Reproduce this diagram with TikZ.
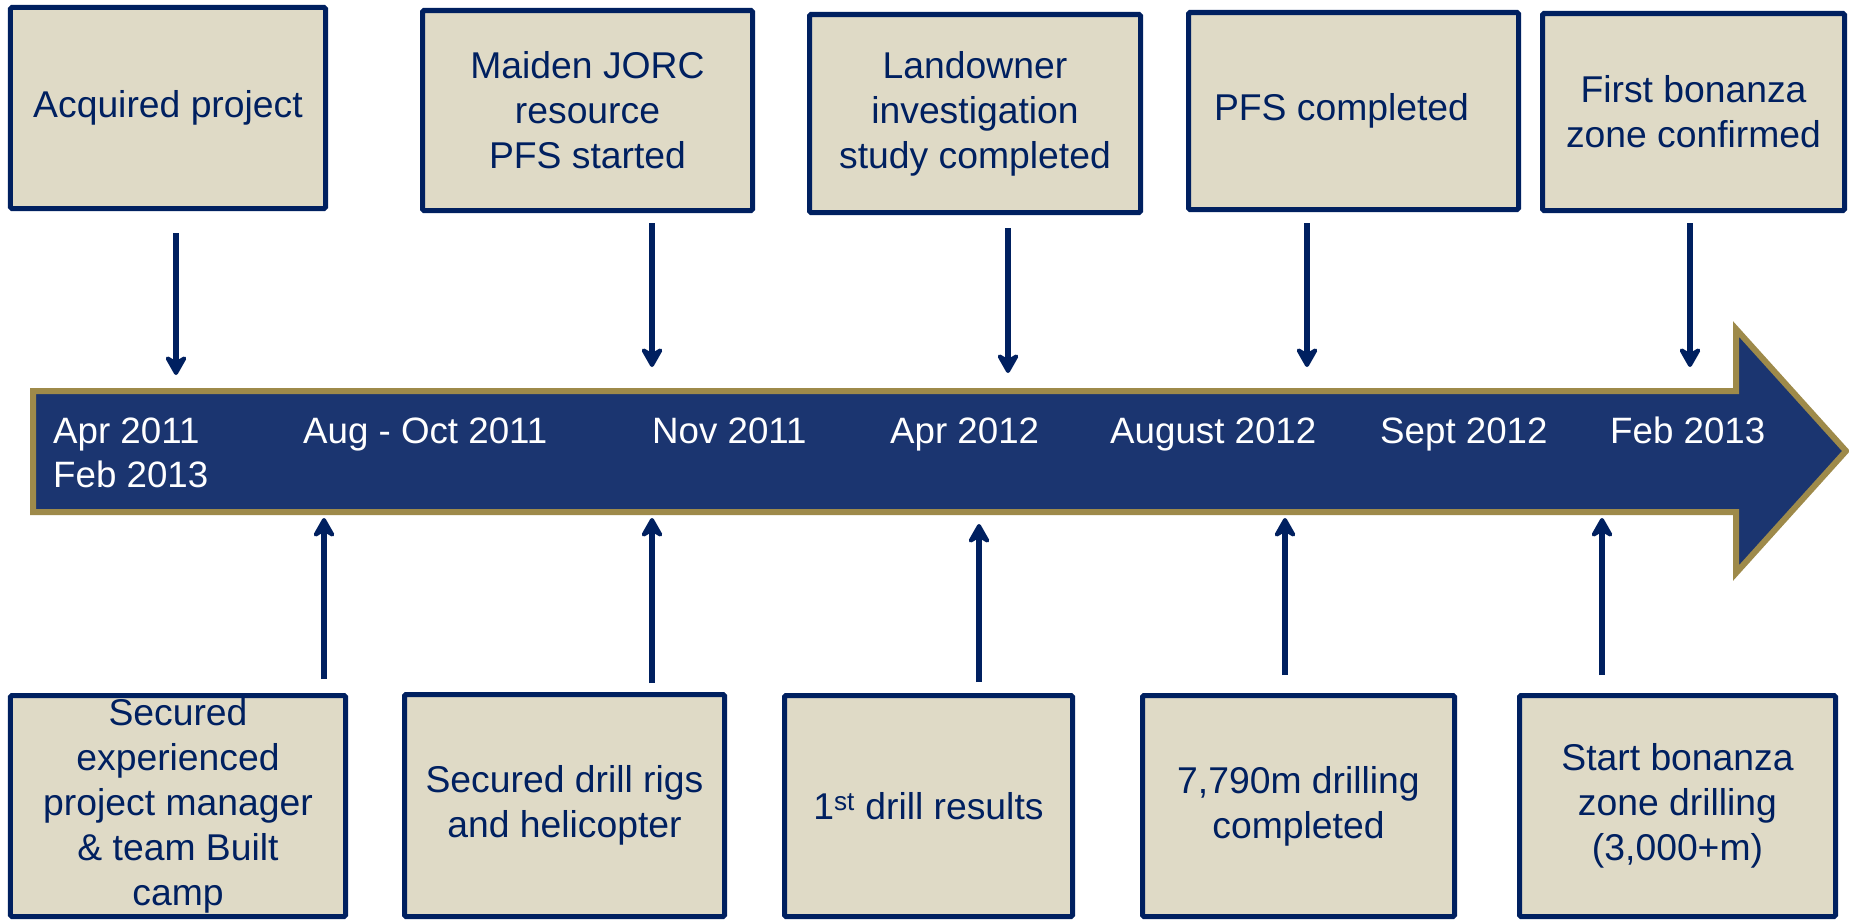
\documentclass[tikz,border=0pt]{standalone}
\usepackage{fontspec}
\setmainfont{Liberation Sans}
\usetikzlibrary{arrows.meta}
\definecolor{navy}{HTML}{002060}
\definecolor{boxfill}{HTML}{DFDAC6}
\definecolor{bandblue}{HTML}{1B3570}
\definecolor{gold}{HTML}{9E8A4A}

\begin{document}
\begin{tikzpicture}[x=1bp,y=-1bp,
  event/.style={draw=navy, line width=5bp, fill=boxfill, rounded corners=1.5bp,
    text=navy, align=center, inner sep=0pt,
    font=\fontsize{37.3bp}{45bp}\selectfont},
  datelbl/.style={text=white, anchor=base west, inner sep=0pt,
    font=\fontsize{36.7bp}{44bp}\selectfont},
  conn/.style={draw=navy, line width=6.5bp,
    -{Stealth[length=24bp,width=27bp,inset=8bp,round]}}
]
\fill[white] (0,0) rectangle (1849,921);
\useasboundingbox (0,0) rectangle (1849,921);

% timeline band
\draw[fill=bandblue, draw=gold, line width=6bp, miter limit=10]
  (33,391) -- (1736,391) -- (1736,329) -- (1846,451) -- (1736,573)
  -- (1736,512) -- (33,512) -- cycle;

% dates on the band
\node[datelbl] (d1)  at (53,443)   {Apr 2011};
\node[datelbl] (d1b) at (53,487)   {Feb 2013};
\node[datelbl] (d2)  at (303,443)  {Aug - Oct 2011};
\node[datelbl] (d3)  at (652,443)  {Nov 2011};
\node[datelbl] (d4)  at (890,443)  {Apr 2012};
\node[datelbl] (d5)  at (1110,443) {August 2012};
\node[datelbl] (d6)  at (1380,443) {Sept 2012};
\node[datelbl] (d7)  at (1610,443) {Feb 2013};

% events above the band
\node[event, minimum width=315bp, minimum height=201bp] (t1) at (168,108)    {Acquired project};
\node[event, minimum width=330bp, minimum height=200bp] (t2) at (587.5,110.5) {Maiden JORC\\resource\\PFS started};
\node[event, minimum width=331bp, minimum height=198bp] (t3) at (975,113.5)   {Landowner\\investigation\\study completed};
\node[event, minimum width=330bp, minimum height=197bp] (t4) at (1353.5,111)  {PFS completed\hspace*{24bp}};
\node[event, minimum width=302bp, minimum height=197bp] (t5) at (1693.5,112) {First bonanza\\zone confirmed};

% events below the band
\node[event, minimum width=335bp, minimum height=221bp] (b1) at (178,806)    {Secured\\experienced\\project manager\\\& team Built\\camp};
\node[event, minimum width=320bp, minimum height=222bp] (b2) at (564.5,805.5) {Secured drill rigs\\and helicopter};
\node[event, minimum width=288bp, minimum height=221bp] (b3) at (928.5,806)   {1\textsuperscript{st} drill results};
\node[event, minimum width=312bp, minimum height=221bp] (b4) at (1298.5,806)  {7,790m drilling\\completed};
\node[event, minimum width=316bp, minimum height=221bp] (b5) at (1677.5,806)  {Start bonanza\\zone drilling\\(3,000+m)};

% connector ends
\coordinate (u1s) at (176,233);  \coordinate (u1e) at (176,375);
\coordinate (u2s) at (652,223);  \coordinate (u2e) at (652,367);
\coordinate (u3s) at (1008,228); \coordinate (u3e) at (1008,373);
\coordinate (u4s) at (1307,223); \coordinate (u4e) at (1307,367);
\coordinate (u5s) at (1690,223); \coordinate (u5e) at (1690,367);

\coordinate (l1s) at (324,679);  \coordinate (l1e) at (324,518);
\coordinate (l2s) at (652,683);  \coordinate (l2e) at (652,518);
\coordinate (l3s) at (979,682);  \coordinate (l3e) at (979,524);
\coordinate (l4s) at (1285,675); \coordinate (l4e) at (1285,518);
\coordinate (l5s) at (1602,675); \coordinate (l5e) at (1602,518);

% connectors
\foreach \i in {1,...,5} {
  \draw[conn] (u\i s) -- (u\i e);
  \draw[conn] (l\i s) -- (l\i e);
}
\end{tikzpicture}
\end{document}
